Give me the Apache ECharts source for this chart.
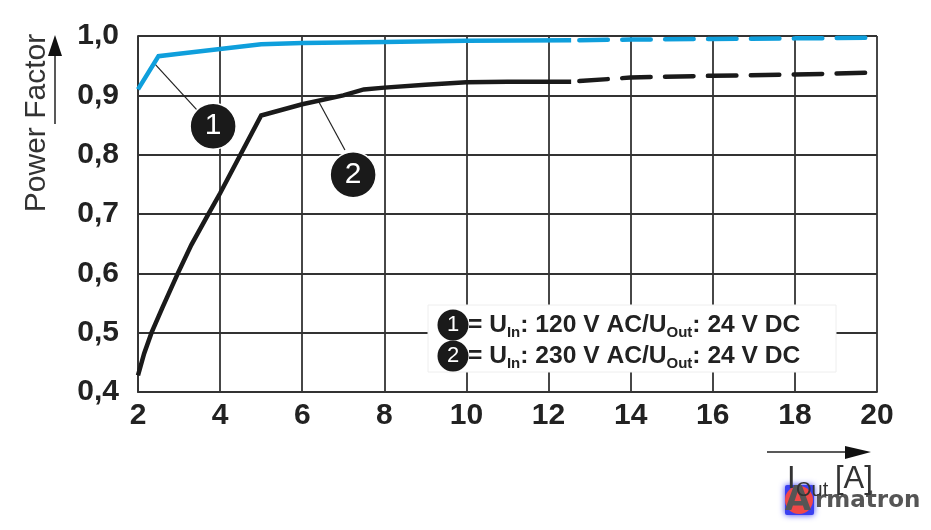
<!DOCTYPE html>
<html><head><meta charset="utf-8">
<style>html,body{margin:0;padding:0;background:#fff}#c{width:931px;height:530px}</style>
<script src="https://cdn.jsdelivr.net/npm/echarts@6/dist/echarts.min.js"></script>
</head><body><div id="c"></div>
<script>
const xTicks = [2,4,6,8,10,12,14,16,18,20];
const blueSolid = [[2,0.91],[2.5,0.966],[3,0.97],[4,0.978],[5,0.986],[6,0.988],[8,0.99],[10,0.992],[12.55,0.993]];
const blueDashed = [[12.75,0.993],[14,0.994],[16,0.995],[18,0.996],[19.75,0.997]];
const blackSolid = [[2,0.428],[2.15,0.465],[2.33,0.5],[2.6,0.543],[2.97,0.6],[3.3,0.648],[3.7,0.698],[4,0.735],[5,0.866],[6,0.885],[7,0.9],[7.5,0.91],[8,0.913],[9,0.918],[10,0.922],[11,0.923],[12.55,0.923]];
const blackDashed = [[12.75,0.924],[14,0.93],[16,0.933],[18,0.935],[19.75,0.938]];
const badges = [[3.83,0.848,'1'],[7.24,0.766,'2']];
const leader1 = [[2.37,0.956],[3.44,0.875]];
const leader2 = [[6.38,0.892],[7.04,0.808]];
const legendRows = ['1','2'];
const legendVolts = ['120','230'];
const BLUE='#0f9fdc', BLACK='#1a1a1a', GRID='#333';
const chart = echarts.init(document.getElementById('c'),null,{renderer:'canvas'});
const leader = d => ({type:'line',data:d,symbol:'none',silent:true,z:3,lineStyle:{color:'#222',width:1.2}});
const lbl = {fontFamily:'Liberation Sans',fontWeight:'bold',fontSize:30,color:'#222'};
const legendText = i => `{b|= U}{s|In}{b|: ${legendVolts[i]} V AC/U}{s|Out}{b|: 24 V DC}`;
const rich = {
  b:{fontFamily:'Liberation Sans',fontWeight:'bold',fontSize:24.6,fill:'#222',lineHeight:30,verticalAlign:'middle'},
  s:{fontFamily:'Liberation Sans',fontWeight:'bold',fontSize:15,fill:'#222',lineHeight:30,verticalAlign:'bottom'}
};
const text = (x,y,t,fs,extra={}) => ({type:'text',x,y,z:20,style:Object.assign({text:t,fontFamily:'Liberation Sans',fontSize:fs,fill:'#333',verticalAlign:'middle'},extra)});
const graphic = [
  {type:'rect',shape:{x:428,y:305,width:408,height:67},z:10,style:{fill:'#fff',stroke:'#eee',lineWidth:1}},
  ...legendRows.flatMap((r,i)=>{
    const y=325+i*31;
    return [
      {type:'circle',shape:{cx:453,cy:y,r:15.5},z:20,style:{fill:BLACK}},
      text(453,y,r,22,{fill:'#fff',align:'center'}),
      {type:'text',x:468,y:y,z:20,style:{text:legendText(i),rich,verticalAlign:'middle'}}
    ];
  }),
  {type:'line',shape:{x1:55,y1:124,x2:55,y2:50},z:20,style:{stroke:'#222',lineWidth:1.5}},
  {type:'polygon',shape:{points:[[48,56],[62,56],[55,35]]},z:20,style:{fill:'#111'}},
  {type:'text',x:37,y:123,rotation:Math.PI/2,z:20,style:{text:'Power Factor',fontFamily:'Liberation Sans',fontSize:30,fill:'#333',align:'center',verticalAlign:'middle'}},
  {type:'line',shape:{x1:767,y1:452,x2:850,y2:452},z:20,style:{stroke:'#222',lineWidth:1.5}},
  {type:'polygon',shape:{points:[[845,446],[845,459],[871,452]]},z:20,style:{fill:'#111'}},
  {type:'rect',shape:{x:785,y:485,width:29,height:30,r:2},z:15,style:{fill:'#3a3ff0',shadowColor:'#3a3ff0',shadowBlur:6}},
  {type:'circle',shape:{cx:799,cy:500,r:14},z:16,style:{fill:'#f04848'}},
  {type:'text',x:798,y:501,z:17,style:{text:'A',fontFamily:'DejaVu Sans',fontWeight:'bold',fontSize:34,fill:'#555',align:'center',verticalAlign:'middle'}},
  {type:'text',x:815,y:501,z:17,style:{text:'rmatron',fontFamily:'DejaVu Sans',fontWeight:'bold',fontSize:23,fill:'#555',align:'left',verticalAlign:'middle'}},
  {type:'text',x:787,y:479,z:20,style:{text:'I',fontFamily:'Liberation Sans',fontSize:31,fill:'#333',align:'left',verticalAlign:'middle'}},
  {type:'text',x:796,y:490,z:20,style:{text:'Out',fontFamily:'Liberation Sans',fontSize:20,fill:'#333',align:'left',verticalAlign:'middle'}},
  {type:'text',x:835,y:479,z:20,style:{text:'[A]',fontFamily:'Liberation Sans',fontSize:31,fill:'#333',align:'left',verticalAlign:'middle'}}
];
chart.setOption({
  animation:false,
  backgroundColor:'#fff',
  grid:{left:138,right:54,top:36,bottom:138,show:false},
  xAxis:{type:'value',min:2,max:20,interval:2,
    axisLine:{show:true,lineStyle:{color:GRID,width:1.8}},axisTick:{show:false},
    splitLine:{show:true,lineStyle:{color:GRID,width:1.8}},
    axisLabel:Object.assign({margin:9,formatter:v=>xTicks.includes(v)?String(v):'',showMinLabel:true,showMaxLabel:true},lbl)},
  yAxis:{type:'value',min:0.4,max:1.0,interval:0.1,
    axisLine:{show:true,lineStyle:{color:GRID,width:1.8}},axisTick:{show:false},
    splitLine:{show:true,lineStyle:{color:GRID,width:1.8}},
    axisLabel:Object.assign({margin:19,formatter:v=>v.toFixed(1).replace('.',',')},lbl)},
  series:[
    {type:'line',data:blueSolid,symbol:'none',z:5,lineStyle:{color:BLUE,width:4.5,join:'miter'}},
    {type:'line',data:blueDashed,symbol:'none',z:5,lineStyle:{color:BLUE,width:4.5,cap:'round',type:[28.5,14.4]}},
    {type:'line',data:blackSolid,symbol:'none',z:5,lineStyle:{color:BLACK,width:4.5,join:'miter'}},
    {type:'line',data:blackDashed,symbol:'none',z:5,lineStyle:{color:BLACK,width:4.5,cap:'round',type:[28.5,14.4]}},
    leader(leader1),leader(leader2),
    {type:'scatter',data:badges,symbolSize:46,z:6,silent:true,
      itemStyle:{color:BLACK,borderColor:'#fff',borderWidth:1.5,opacity:1},
      label:{show:true,position:'inside',formatter:p=>p.value[2],fontFamily:'Liberation Sans',fontSize:30,color:'#fff'}}
  ],
  graphic:{elements:graphic}
});
</script></body></html>
